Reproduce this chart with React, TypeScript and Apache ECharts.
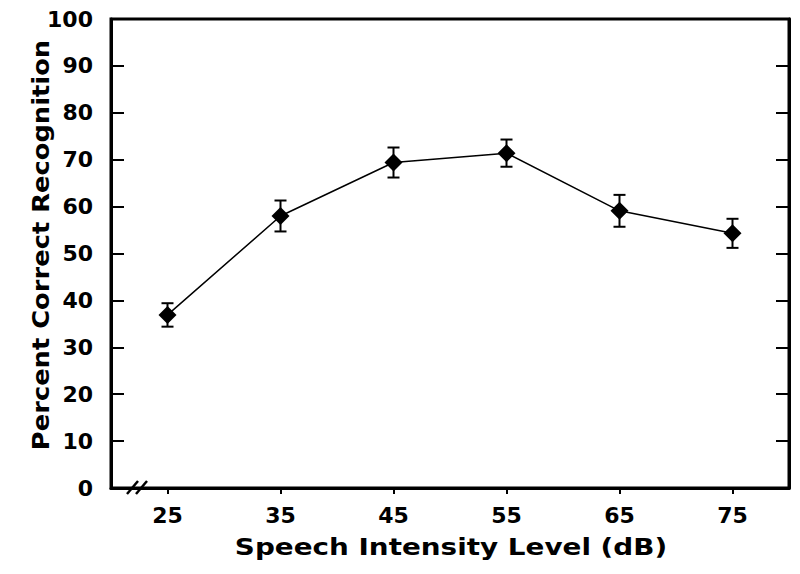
import React, { useEffect, useRef } from "react";
import * as echarts from "echarts";

const levels = ["25", "35", "45", "55", "65", "75"];
const means = [36.9, 58.0, 69.4, 71.4, 59.1, 54.3];
const errors = [2.5, 3.3, 3.2, 2.9, 3.4, 3.1];
const yTicks = [0, 10, 20, 30, 40, 50, 60, 70, 80, 90, 100];
const xTitle = "Speech Intensity Level (dB)";
const yTitle = "Percent Correct Recognition";

const FONT = '"DejaVu Sans", "Liberation Sans", Arial, sans-serif';

export default function App() {
  const ref = useRef<HTMLDivElement>(null);
  useEffect(() => {
    document.body.style.margin = "0";
    const chart = echarts.init(ref.current!, null, { renderer: "svg" });
    const errData = levels.map((l, i) => [i, means[i] - errors[i], means[i] + errors[i]]);
    const option: any = {
      animation: false,
      backgroundColor: "#fff",
      grid: {
        left: 111,
        right: 11,
        top: 19,
        bottom: 86,
        show: true,
        borderColor: "#000",
        borderWidth: 3,
        backgroundColor: "transparent",
      },
      xAxis: {
        type: "category",
        data: levels,
        boundaryGap: true,
        axisLine: { show: true, lineStyle: { color: "#000", width: 3 } },
        axisTick: { show: true, alignWithLabel: true, length: 6, lineStyle: { color: "#000", width: 2 } },
        axisLabel: { color: "#000", fontFamily: FONT, fontWeight: "bold", fontSize: 22, margin: 16 },
        splitLine: { show: false },
      },
      yAxis: [
        {
          type: "value",
          min: yTicks[0],
          max: yTicks[yTicks.length - 1],
          interval: 10,
          axisLine: { show: true, lineStyle: { color: "#000", width: 3 } },
          axisTick: { show: true, inside: true, length: 13, lineStyle: { color: "#000", width: 2 } },
          axisLabel: { color: "#000", fontFamily: FONT, fontWeight: "bold", fontSize: 22, margin: 18 },
          splitLine: { show: false },
        },
        {
          type: "value",
          position: "right",
          min: yTicks[0],
          max: yTicks[yTicks.length - 1],
          interval: 10,
          axisLine: { show: true, lineStyle: { color: "#000", width: 3 } },
          axisTick: { show: true, inside: true, length: 13, lineStyle: { color: "#000", width: 2 } },
          axisLabel: { show: false },
          splitLine: { show: false },
        },
      ],
      series: [
        {
          type: "custom",
          z: 1,
          data: errData,
          renderItem: (params: any, api: any) => {
            const x = api.value(0);
            const lo = api.coord([x, api.value(1)]);
            const hi = api.coord([x, api.value(2)]);
            const cap = 6;
            const st = { stroke: "#000", lineWidth: 2, fill: "none" };
            return {
              type: "group",
              children: [
                { type: "line", shape: { x1: lo[0], y1: lo[1], x2: hi[0], y2: hi[1] }, style: st },
                { type: "line", shape: { x1: lo[0] - cap, y1: lo[1], x2: lo[0] + cap, y2: lo[1] }, style: st },
                { type: "line", shape: { x1: hi[0] - cap, y1: hi[1], x2: hi[0] + cap, y2: hi[1] }, style: st },
              ],
            };
          },
        },
        {
          type: "line",
          z: 3,
          data: means,
          symbol: "diamond",
          symbolSize: 18,
          lineStyle: { color: "#000", width: 1.5 },
          itemStyle: { color: "#000" },
        },
      ],
      graphic: [
        {
          type: "line",
          shape: { x1: 127, y1: 494, x2: 138, y2: 481 },
          style: { stroke: "#000", lineWidth: 2.5 },
        },
        {
          type: "line",
          shape: { x1: 136, y1: 494, x2: 147, y2: 481 },
          style: { stroke: "#000", lineWidth: 2.5 },
        },
        {
          type: "text",
          x: 451,
          y: 547,
          scaleX: 1.21,
          style: {
            text: xTitle,
            fontFamily: FONT,
            fontWeight: "bold",
            fontSize: 23,
            fill: "#000",
            align: "center",
            verticalAlign: "middle",
            textAlign: "center",
            textVerticalAlign: "middle",
          },
        },
        {
          type: "text",
          x: 41,
          y: 245,
          rotation: Math.PI / 2,
          scaleX: 1.12,
          style: {
            text: yTitle,
            fontFamily: FONT,
            fontWeight: "bold",
            fontSize: 23,
            fill: "#000",
            align: "center",
            verticalAlign: "middle",
            textAlign: "center",
            textVerticalAlign: "middle",
          },
        },
      ],
    };
    chart.setOption(option);
    return () => chart.dispose();
  }, []);
  return <div ref={ref} style={{ position: "fixed", left: 0, top: 0, width: 800, height: 574 }} />;
}
